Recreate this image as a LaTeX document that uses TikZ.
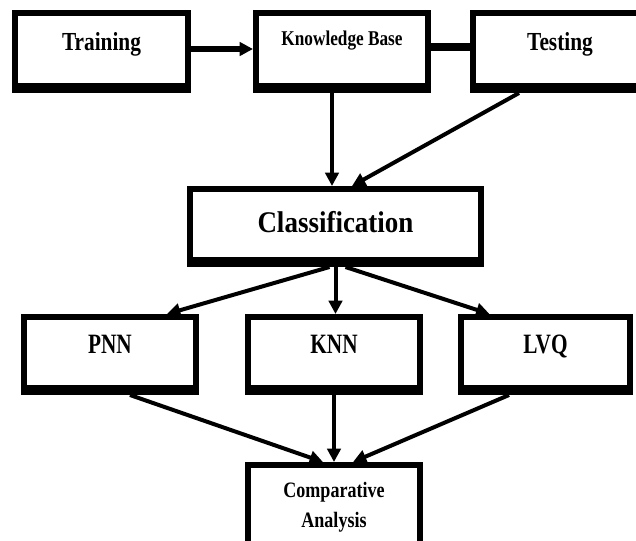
\documentclass[tikz,border=0pt]{standalone}
\usepackage{fontspec}
\setmainfont{Liberation Serif}
\newfontfamily\narrowA{Liberation Serif}[FakeStretch=0.82]
\newfontfamily\narrowB{Liberation Serif}[FakeStretch=0.76]
\newfontfamily\wideA{Liberation Serif}[FakeStretch=0.9]
\usetikzlibrary{arrows.meta,calc}

\tikzset{
  blk/.style={draw, line width=4.5pt, inner sep=0pt, minimum width=129pt, minimum height=56.25pt,
    text height=0pt, text depth=2.25pt,
    append after command={($(\tikzlastnode.south west)+(0,-7.5)$) edge[line width=3.75pt] ($(\tikzlastnode.south east)+(0,-7.5)$)}},
  arr/.style={line width=3pt, -{Triangle[length=10pt,width=10pt]}},
}

\begin{document}
\begin{tikzpicture}[x=0.75pt,y=0.75pt,yscale=-1,xscale=1]
\useasboundingbox (0,0) rectangle (636,540);
\clip (0,0) rectangle (636,540);

%Shape: Rectangle [id:tr]
\node[blk, minimum width=129.75pt, minimum height=57.75pt, font=\narrowA\bfseries\fontsize{19.5}{22}\selectfont] (tr) at (101.5,51.5) {Training};
%Shape: Rectangle [id:kb]
\node[blk, minimum height=57.75pt, text depth=9.75pt, font=\narrowA\bfseries\fontsize{15.75}{18}\selectfont] (kb) at (342,51.5) {Knowledge Base};
%Shape: Rectangle [id:te]
\node[blk, minimum width=130.5pt, minimum height=57.75pt, font=\narrowA\bfseries\fontsize{19.5}{22}\selectfont] (te) at (560,51.5) {Testing};

%Shape: Rectangle [id:cl]
\node[blk, minimum width=218.25pt, text height=8.25pt, text depth=0pt, font=\wideA\bfseries\fontsize{22.5}{26}\selectfont] (cl) at (335.5,226.5) {Classification};

%Shape: Rectangle [id:pn]
\node[blk, font=\narrowB\bfseries\fontsize{21}{24}\selectfont] (pn) at (110,354.5) {PNN};
%Shape: Rectangle [id:kn]
\node[blk, font=\narrowB\bfseries\fontsize{21}{24}\selectfont] (kn) at (334,354.5) {KNN};
%Shape: Rectangle [id:lv]
\node[blk, minimum width=126.75pt, font=\narrowB\bfseries\fontsize{21}{24}\selectfont] (lv) at (545.5,354.5) {LVQ};

%Shape: Rectangle [id:ca]
\node[blk, minimum height=65.25pt, align=center, text height=27.75pt, text depth=0pt, font=\narrowA\bfseries\fontsize{16.5}{22.5}\selectfont] (ca) at (334,508.5) {Comparative\\Analysis};

%Straight Lines
\draw[arr, line width=4pt] ($(tr.east)+(0,-2.5)$) -- ($(kb.west)+(0,-2.5)$);
\draw[line width=6pt] ($(kb.east)+(0,-4.5)$) -- ($(te.west)+(0,-4.5)$);
\draw[arr] ($(kb.south)+(-10,0)$) -- ($(cl.north)+(-3.5,0)$);
\draw[arr] ($(te.south)+(-41,0)$) -- ($(cl.north)+(16.5,0)$);

\draw[arr] ($(cl.south)+(-6,0)$) -- ($(pn.north)+(57,0)$);
\draw[arr] (cl.south) -- (cl.south |- kn.north);
\draw[arr] ($(cl.south)+(10,0)$) -- ($(lv.north)+(-56,0)$);

\draw[arr] ($(pn.south)+(20,0)$) -- ($(ca.north)+(-11,0)$);
\draw[arr] (kn) -- (ca);
\draw[arr] ($(lv.south)+(-36.5,0)$) -- ($(ca.north)+(19,0)$);

\end{tikzpicture}
\end{document}
